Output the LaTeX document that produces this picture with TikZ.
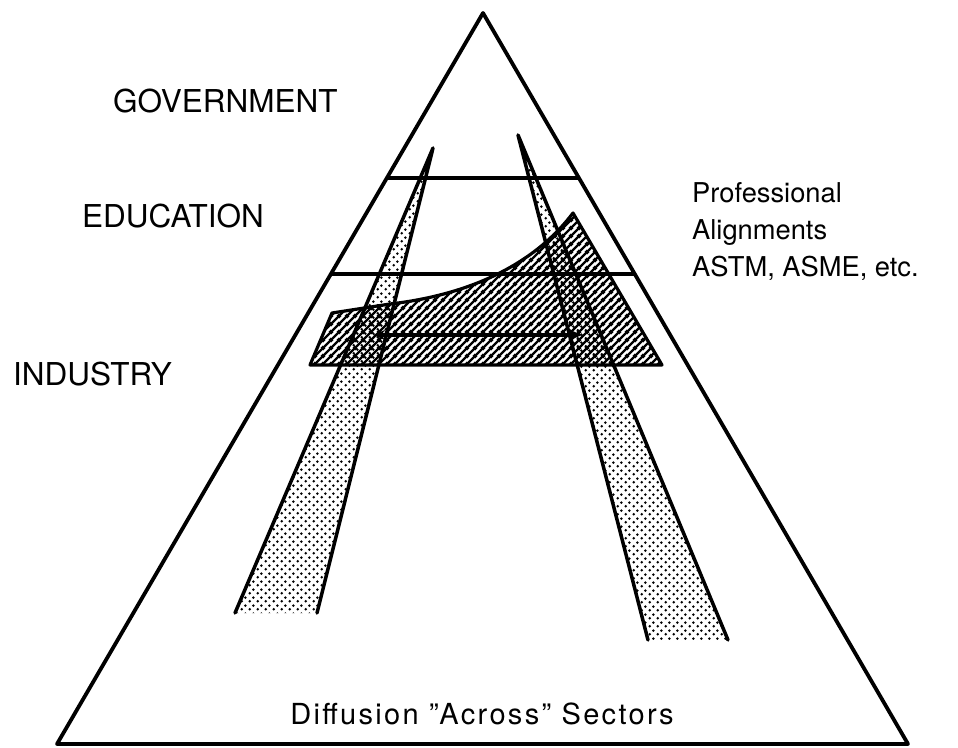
\documentclass[tikz,border=0pt]{standalone}
\usepackage{fontspec}
\setmainfont{TeX Gyre Heros}
\usetikzlibrary{patterns.meta,arrows.meta,calc}

\tikzdeclarepattern{name=stipple, type=uncolored,
  bottom left={(0pt,0pt)}, top right={(8pt,8pt)}, tile size={(8pt,8pt)},
  code={\fill (2pt,2pt) circle (1.6pt); \fill (6pt,6pt) circle (1.6pt);}}
\tikzdeclarepattern{name=hatchlines, type=uncolored,
  bottom left={(0pt,0pt)}, top right={(7.5pt,7.5pt)}, tile size={(7.5pt,7.5pt)},
  code={\draw[line width=2.4pt] (-2pt,-2pt) -- (9.5pt,9.5pt);
        \draw[line width=2.4pt] (-2pt,5.5pt) -- (2pt,9.5pt);
        \draw[line width=2.4pt] (5.5pt,-2pt) -- (9.5pt,2pt);}}

\begin{document}
\begin{tikzpicture}[x=1pt,y=-1pt,line join=round,
  frame/.style={line width=3.8pt},
  band/.style={line width=3.5pt},
  wedgeline/.style={line width=3.5pt,line cap=round},
  capslabel/.style={font=\fontsize{31.5}{37}\selectfont,inner sep=0pt},
  smalllabel/.style={font=\fontsize{27.3}{32}\selectfont,inner sep=0pt},
  footlabel/.style={font=\fontsize{29}{34}\selectfont\addfontfeature{LetterSpace=8},inner sep=0pt}]
\useasboundingbox (0,0) rectangle (958,747);

% triangle
\coordinate (apex) at (483,13);
\coordinate (bl) at (57,744);
\coordinate (br) at (908,744);
\coordinate (L1) at ($(apex)!0.2257!(bl)$);
\coordinate (R1) at ($(apex)!0.2257!(br)$);
\coordinate (L2) at ($(apex)!0.3570!(bl)$);
\coordinate (R2) at ($(apex)!0.3570!(br)$);
\draw[frame] (apex) -- (bl) -- (br) -- cycle;
\draw[band] (L1) -- (R1);
\draw[band] (L2) -- (R2);

% hatched professional alignment shape
\coordinate (h1) at (310,365);
\coordinate (h2) at (332,313);
\coordinate (h3) at (390,304);
\coordinate (h4) at (573,213);
\coordinate (h5) at (662,365);
\draw[line width=3.2pt,pattern=hatchlines] (h1) -- (h2) -- (h3)
  .. controls (460,296) and (530,270) .. (h4) -- (h5) -- cycle;

% stippled wedges
\coordinate (lwA) at (433,148);
\coordinate (lwL) at (235,613);
\coordinate (lwR) at (317,613);
\coordinate (rwA) at (518,135);
\coordinate (rwL) at (648,640);
\coordinate (rwR) at (728,640);
\fill[pattern=stipple] (lwA) -- (lwL) -- (lwR) -- cycle;
\fill[pattern=stipple] (rwA) -- (rwL) -- (rwR) -- cycle;
\draw[wedgeline] (lwL) -- (lwA) -- (lwR);
\draw[wedgeline] (rwL) -- (rwA) -- (rwR);

% double arrow
\coordinate (aL) at (373,335);
\coordinate (aR) at (582,335);
\draw[line width=3.2pt,{Stealth[length=12pt,width=10pt]}-{Stealth[length=12pt,width=10pt]}] (aL) -- (aR);

% labels
\node[capslabel,anchor=base west] (gov) at (113,112) {GOVERNMENT};
\node[capslabel,anchor=base west] (edu) at (82,227) {EDUCATION};
\node[capslabel,anchor=base west] (ind) at (13,385) {INDUSTRY};
\node[smalllabel,anchor=base west] (prof1) at (692,202) {Professional};
\node[smalllabel,anchor=base west] (prof2) at (692,239) {Alignments};
\node[smalllabel,anchor=base west] (prof3) at (692,276) {ASTM, ASME, etc.};
\node[footlabel,anchor=base] (diff) at (482,724) {Diffusion ''Across'' Sectors};
\end{tikzpicture}
\end{document}
